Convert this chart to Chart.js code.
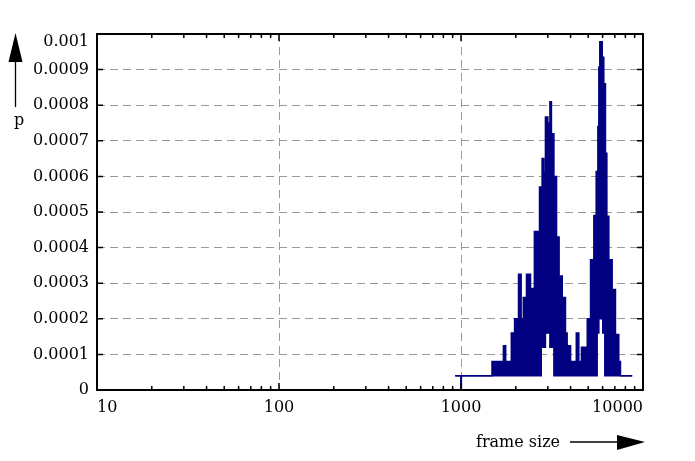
<!DOCTYPE html>
<html>
<head>
<meta charset="utf-8">
<script src="https://cdn.jsdelivr.net/npm/chart.js@4.4.1/dist/chart.umd.min.js"></script>
<style>
  html, body { margin: 0; padding: 0; background: #fff; }
  #wrap { width: 695px; height: 461px; }
</style>
</head>
<body>
<div id="wrap"><canvas id="chart" width="695" height="461"></canvas></div>
<script>
// frame size histogram, log x axis — the trace is so dense it reads as a filled band,
// so it is kept as its upper and lower edge

const frameSizes = [930, 1000, 1004, 1480, 1710, 1760, 1800, 1890, 1970, 2070, 2140, 2200, 2290, 2410,
  2530, 2700, 2760, 2790, 2850, 2910, 3000, 3080, 3140, 3240, 3350, 3460, 3600, 3750, 3830, 4000,
  4300, 4440, 4590, 4940, 5150, 5370, 5530, 5600, 5650, 5720, 5790, 5970, 6010, 6090, 6170, 6220,
  6330, 6490, 6770, 7060, 7360, 7520, 8720];

const pUpper = [0.00004, 0, 0.00004, 0.00008, 0.000124, 0.00008, 0.00008, 0.00016, 0.0002, 0.000325,
  0.0002, 0.00026, 0.000325, 0.000285, 0.000445, 0.00057, 0.00057, 0.00065, 0.00061, 0.000767,
  0.00075, 0.00081, 0.00072, 0.0006, 0.00043, 0.00032, 0.00026, 0.00016, 0.000124, 0.00008,
  0.00016, 0.00008, 0.00012, 0.0002, 0.000366, 0.00049, 0.000614, 0.000614, 0.00074, 0.000907,
  0.000978, 0.000935, 0.000935, 0.00086, 0.00086, 0.000665, 0.000488, 0.000366, 0.000282,
  0.000156, 0.00008, 0.00004, 0.00004];

const pLower = [0.00004, 0, 0.00004, 0.00004, 0.00004, 0.00004, 0.00004, 0.00004, 0.00004, 0.00004,
  0.00004, 0.00004, 0.00004, 0.00004, 0.00004, 0.00004, 0.00012, 0.00012, 0.00012, 0.00016,
  0.00016, 0.00012, 0.00012, 0.00004, 0.00004, 0.00004, 0.00004, 0.00004, 0.00004, 0.00004,
  0.00004, 0.00004, 0.00004, 0.00004, 0.00004, 0.00004, 0.00004, 0.00016, 0.00016, 0.0002,
  0.0002, 0.0002, 0.00016, 0.00016, 0.00004, 0.00004, 0.00004, 0.00004, 0.00004, 0.00004,
  0.00004, 0.00004, 0.00004];

const xTickValues = [10, 20, 30, 40, 50, 60, 70, 80, 90,
  100, 200, 300, 400, 500, 600, 700, 800, 900,
  1000, 2000, 3000, 4000, 5000, 6000, 7000, 8000, 9000, 10000];
const xMajorValues = [10, 100, 1000, 10000];
const xTickLabels = ['10', '100', '1000', '10000'];

const yTickValues = [0, 0.0001, 0.0002, 0.0003, 0.0004, 0.0005, 0.0006, 0.0007, 0.0008, 0.0009, 0.001];
const yTickLabels = ['0', '0.0001', '0.0002', '0.0003', '0.0004', '0.0005', '0.0006', '0.0007',
  '0.0008', '0.0009', '0.001'];

const NAVY = '#000080';
const GRID = '#999999';

Chart.defaults.font.family = "'DejaVu Serif', serif";
Chart.defaults.font.size = 16;
Chart.defaults.color = '#000';

// frame with inward ticks + the two axis titles with arrows
const framePlugin = {
  id: 'framePlugin',
  afterDraw(chart) {
    const { ctx, chartArea: area, scales } = chart;
    const xs = scales.x, ys = scales.y;
    ctx.save();
    ctx.strokeStyle = '#000';
    ctx.fillStyle = '#000';
    ctx.lineWidth = 1.5;
    ctx.beginPath();
    xs.ticks.forEach(t => {
      const px = xs.getPixelForValue(t.value);
      const len = xMajorValues.includes(t.value) ? 7 : 4;
      ctx.moveTo(px, area.bottom); ctx.lineTo(px, area.bottom - len);
      ctx.moveTo(px, area.top); ctx.lineTo(px, area.top + len);
    });
    ys.ticks.forEach(t => {
      const py = ys.getPixelForValue(t.value);
      ctx.moveTo(area.left, py); ctx.lineTo(area.left + 6, py);
      ctx.moveTo(area.right, py); ctx.lineTo(area.right - 6, py);
    });
    ctx.stroke();
    ctx.lineWidth = 2;
    ctx.strokeRect(area.left, area.top, area.right - area.left, area.bottom - area.top);

    // p with upward arrow
    ctx.lineWidth = 1.3;
    ctx.beginPath(); ctx.moveTo(15.5, 107); ctx.lineTo(15.5, 58); ctx.stroke();
    ctx.beginPath(); ctx.moveTo(15.5, 33); ctx.lineTo(8.5, 62); ctx.lineTo(22.5, 62); ctx.closePath(); ctx.fill();
    ctx.font = "16px 'DejaVu Serif'";
    ctx.textBaseline = 'alphabetic';
    ctx.textAlign = 'center';
    ctx.fillText('p', 19, 124.5);

    // frame size with right arrow
    ctx.textAlign = 'left';
    ctx.fillText('frame size', 476, 447);
    ctx.beginPath(); ctx.moveTo(570, 442); ctx.lineTo(622, 442); ctx.stroke();
    ctx.beginPath(); ctx.moveTo(645, 442); ctx.lineTo(617, 435); ctx.lineTo(617, 450); ctx.closePath(); ctx.fill();
    ctx.restore();
  }
};

new Chart(document.getElementById('chart'), {
  type: 'line',
  data: {
    datasets: [
      {
        data: frameSizes.map((f, i) => ({ x: f, y: pUpper[i] })),
        borderColor: NAVY,
        backgroundColor: NAVY,
        borderWidth: 1.5,
        stepped: true,
        fill: '+1',
        pointRadius: 0,
      },
      {
        data: frameSizes.map((f, i) => ({ x: f, y: pLower[i] })),
        borderColor: NAVY,
        borderWidth: 1.5,
        stepped: true,
        fill: false,
        pointRadius: 0,
      },
    ],
  },
  options: {
    responsive: false,
    animation: false,
    layout: { padding: { top: 34, right: 52, bottom: 0, left: 0 } },
    plugins: {
      legend: { display: false },
      tooltip: { enabled: false },
    },
    scales: {
      x: {
        type: 'logarithmic',
        min: 10,
        max: 10000,
        afterBuildTicks: scale => { scale.ticks = xTickValues.map(v => ({ value: v })); },
        afterFit: scale => { scale.height = 71; },
        ticks: {
          autoSkip: false,
          maxRotation: 0,
          align: 'inner',
          padding: 8,
          callback: (value, index, ticks) => {
            const k = xMajorValues.indexOf(ticks[index].value);
            return k >= 0 ? xTickLabels[k] : '';
          },
        },
        grid: {
          drawTicks: false,
          lineWidth: 1,
          color: ctx => (ctx.tick && (ctx.tick.value === 100 || ctx.tick.value === 1000)) ? GRID : 'transparent',
        },
        border: { display: false, dash: [8, 5] },
      },
      y: {
        type: 'linear',
        min: 0,
        max: 0.001,
        afterBuildTicks: scale => { scale.ticks = yTickValues.map(v => ({ value: v })); },
        afterFit: scale => { scale.width = 97; },
        ticks: {
          autoSkip: false,
          padding: 8,
          font: { lineHeight: 1 },
          // top label sits a little below its tick, as in the original
          callback: (value, index) => index === yTickLabels.length - 1 ? ['', yTickLabels[index]] : yTickLabels[index],
        },
        grid: {
          drawTicks: false,
          lineWidth: 1,
          color: ctx => (ctx.index > 0 && ctx.index < yTickValues.length - 1) ? GRID : 'transparent',
        },
        border: { display: false, dash: [8, 5] },
      },
    },
  },
  plugins: [framePlugin],
});
</script>
</body>
</html>
